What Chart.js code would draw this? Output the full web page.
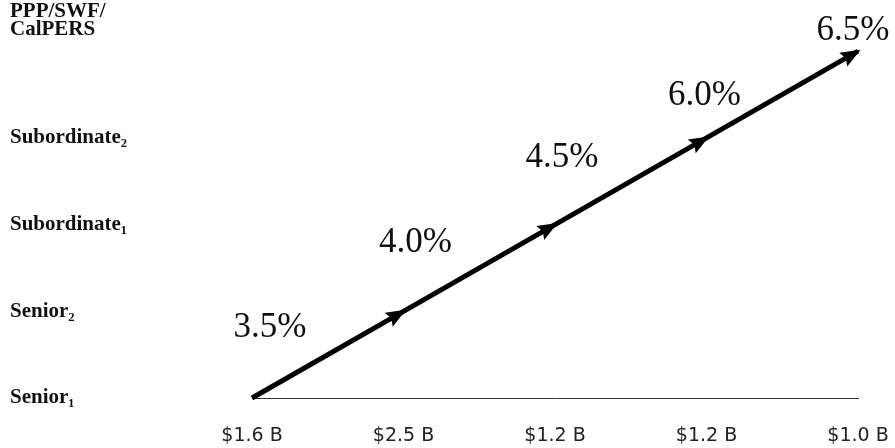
<!DOCTYPE html>
<html>
<head>
<meta charset="utf-8">
<script src="https://cdn.jsdelivr.net/npm/chart.js@4"></script>
<style>
  html, body { margin: 0; padding: 0; background: #fff; }
  #wrap { width: 895px; height: 448px; }
</style>
</head>
<body>
<div id="wrap"><canvas id="grafico"></canvas></div>
<script>
// tramos de deuda, de abajo hacia arriba
const tramos = ['Senior\u2081', 'Senior\u2082', 'Subordinate\u2081', 'Subordinate\u2082', ['PPP/SWF/', 'CalPERS']];
const montos = ['$1.6 B', '$2.5 B', '$1.2 B', '$1.2 B', '$1.0 B'];
const tasas = [3.5, 4.0, 4.5, 6.0, 6.5];
const nivel = [0, 1, 2, 3, 4];

const puntos = montos.map((m, i) => ({ x: i, y: nivel[i] }));

// flechas y etiquetas de tasa
const flechas = {
    id: 'flechas',
    afterDatasetsDraw(chart) {
        const pts = chart.getDatasetMeta(0).data;
        const ctx = chart.ctx;
        ctx.save();
        ctx.fillStyle = '#000';
        for (let i = 1; i < pts.length; i++) {
            const a = pts[i - 1], b = pts[i];
            const ang = Math.atan2(b.y - a.y, b.x - a.x);
            ctx.save();
            ctx.translate(b.x, b.y);
            ctx.rotate(ang);
            ctx.beginPath();
            ctx.moveTo(3, 0);
            ctx.lineTo(-17, -8);
            ctx.lineTo(-14, 0);
            ctx.lineTo(-17, 8);
            ctx.closePath();
            ctx.fill();
            ctx.restore();
        }
        ctx.font = '35px "Liberation Serif"';
        ctx.fillStyle = '#111';
        ctx.textAlign = 'center';
        ctx.textBaseline = 'middle';
        const desp = [[18, -70], [12, -68], [7, -67], [-2, -42], [-5, -20]];
        pts.forEach((p, i) => {
            ctx.fillText(tasas[i].toFixed(1) + '%', p.x + desp[i][0], p.y + desp[i][1]);
        });
        ctx.restore();
    }
};

new Chart(document.getElementById('grafico'), {
    type: 'line',
    data: {
        datasets: [{
            data: puntos,
            borderColor: '#000',
            borderWidth: 5,
            pointRadius: 0,
            tension: 0,
            clip: false
        }]
    },
    options: {
        responsive: true,
        maintainAspectRatio: false,
        animation: false,
        layout: { padding: { left: 10, right: 37, top: 0, bottom: 3 } },
        plugins: { legend: { display: false }, tooltip: { enabled: false } },
        scales: {
            x: {
                type: 'linear',
                min: 0,
                max: 4,
                afterFit: (scale) => {
                    scale.height = 47;
                    scale.paddingRight = 0;
                    scale.paddingLeft = 0;
                },
                grid: { display: false, drawTicks: false },
                border: { display: true, color: '#333', width: 1, dash: [9, 3, 2, 3] },
                ticks: {
                    stepSize: 1,
                    autoSkip: false,
                    maxRotation: 0,
                    padding: 27,
                    color: '#222',
                    font: { family: 'DejaVu Sans', size: 19 },
                    callback: (v) => montos[v]
                }
            },
            y: {
                type: 'linear',
                min: 0,
                max: 4.35,
                afterBuildTicks: (scale) => {
                    scale.ticks = [0, 1, 2, 3, 4.35].map(v => ({ value: v }));
                },
                afterFit: (scale) => { scale.width = 242; },
                grid: { display: false, drawTicks: false },
                border: { display: false },
                ticks: {
                    crossAlign: 'far',
                    color: '#111',
                    font: { family: 'Liberation Serif', size: 21, weight: 'bold', lineHeight: 0.85 },
                    callback: (v, i) => tramos[i]
                }
            }
        }
    },
    plugins: [flechas]
});
</script>
</body>
</html>
